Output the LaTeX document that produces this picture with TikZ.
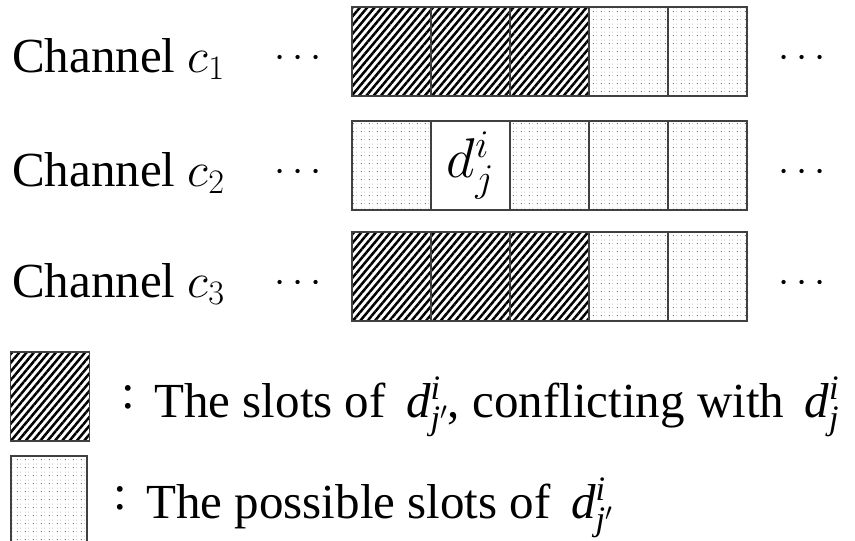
\RequirePackage{fix-cm}
\documentclass[tikz,border=0pt]{standalone}
\usepackage{fontspec}
\setmainfont{Liberation Serif}
\usepackage{tikz}
\usetikzlibrary{patterns,patterns.meta}
% light dotted texture of a free slot
\pgfdeclarepatterninherentlycolored{slotdots}{\pgfpointorigin}{\pgfpoint{8pt}{8pt}}{\pgfpoint{8pt}{8pt}}{
  \pgfsetfillcolor{black!55}
  \pgfpathrectangle{\pgfpoint{1pt}{1pt}}{\pgfpoint{1.1pt}{1.1pt}}\pgfusepath{fill}
  \pgfsetfillcolor{black!22}
  \pgfpathrectangle{\pgfpoint{1pt}{5pt}}{\pgfpoint{0.9pt}{0.9pt}}\pgfusepath{fill}
  \pgfpathrectangle{\pgfpoint{4.6pt}{1pt}}{\pgfpoint{0.7pt}{0.9pt}}\pgfusepath{fill}
  \pgfpathrectangle{\pgfpoint{4.6pt}{5pt}}{\pgfpoint{0.7pt}{0.9pt}}\pgfusepath{fill}
}
\tikzset{
  % one time slot of a channel
  slot/.style = {rectangle, draw=black!75, line width=1.1pt, minimum width=79pt,
                 minimum height=89pt, inner sep=0pt, outer sep=0pt},
  busy/.style = {slot, pattern={Lines[angle=50,distance=5.6pt,line width=2.5pt]}},
  free/.style = {slot, pattern=slotdots},
  lbl/.style  = {font=\fontsize{49}{58}\selectfont, inner sep=0pt, anchor=base west},
  gap/.style  = {font=\fontsize{40}{48}\selectfont, inner sep=0pt, anchor=base},
}
\newcommand{\dd}[1]{\mathit{d}^{\mathit{i}}_{\mathit{#1}}}

\begin{document}
\begin{tikzpicture}[x=1pt,y=-1pt]
\useasboundingbox (0,0) rectangle (855,541);
% --- channels and their slots --------------------------------------------
\foreach \r/\y/\kinds in {1/51.5/{busy,busy,busy,free,free},
                          2/165.5/{free,slot,free,free,free},
                          3/276.5/{busy,busy,busy,free,free}}{
  \node[lbl] (ch\r) at (12,\y+20.5) {Channel $c_\r$};
  \node[gap] (pre\r) at (298,\y+16) {$\cdots$};
  \foreach \k [count=\c] in \kinds
    \node[\k] (s\r\c) at (391.5+79*\c-79,\y) {};
  \node[gap] (post\r) at (802,\y+16) {$\cdots$};
}
% --- the item itself --------------------------------------------------------
\node[font=\fontsize{56}{64}\selectfont, inner sep=0pt] (dji) at (s22) {$d^i_j$};
% --- legend ---------------------------------------------------------------
\node[busy] (keybusy) at (50,396.5) {};
\node[free, minimum width=76pt] (keyfree) at (49,500.5) {};
\node[lbl] (txtbusy) at (121,417)
  {\raisebox{0.18em}{:}\hspace{0.4em}The slots of \,$\dd{j'}$, conflicting with \,$\dd{j}$};
\node[lbl] (txtfree) at (113,518)
  {\raisebox{0.18em}{:}\hspace{0.4em}The possible slots of \,$\dd{j'}$};
\end{tikzpicture}
\end{document}
